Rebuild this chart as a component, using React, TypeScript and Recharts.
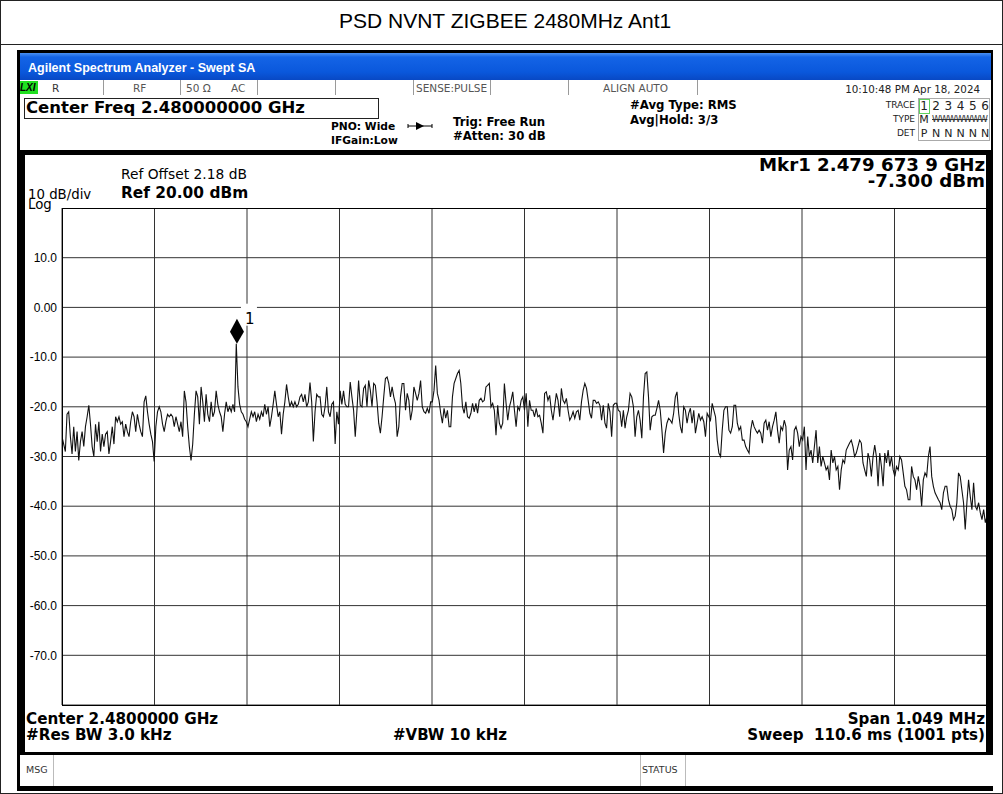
import React from 'react';
import { LineChart, Line, XAxis, YAxis, CartesianGrid, ReferenceDot } from 'recharts';

// sweep settings
const CENTER_MHZ = 2480;
const SPAN_MHZ = 1.049;
const MARKER_MHZ = 2479.6739;
const MARKER_DBM = -7.3;
const REF_DBM = 20;
const DB_PER_DIV = 10;
const DIVS = 10;

// trace levels (dBm), left third / middle third / right third of the sweep
const traceLeft = [
  -26, -27.5, -29, -21.5, -21, -26, -29.5, -24, -29, -25,
  -30.8, -27, -25, -28, -24, -22, -19.7, -23.5, -28, -30,
  -23.5, -27, -23, -29, -25.5, -28, -25.5, -25, -29.5, -27,
  -24, -27.5, -22, -23, -22, -23.5, -23, -26, -23.5, -25,
  -26, -23, -21, -22, -25, -21.5, -23.5, -25, -26, -19,
  -17.8, -21, -23.5, -25.5, -27, -31, -24, -21, -20, -21,
  -23.5, -25, -23, -21.5, -22, -21.5, -22, -24, -22, -23.5,
  -25, -23, -26, -16.8, -19, -24, -28, -30.8, -27.5, -21.5,
  -16.8, -18, -23.5, -16, -19, -23, -17.5, -21.5, -23, -19,
  -22, -21, -16.8, -19.5, -21, -22, -25, -21.5, -19, -21,
  -20, -21, -19.5, -21, -7.3, -16, -19.5, -21, -21.5, -22.5,
  -23, -24, -22.5, -21, -22, -21, -23, -21.5, -22.5, -21,
  -22, -19.5, -21.5, -20, -24, -22, -19.5, -16.8, -19.5, -22,
  -21, -25.5, -21.5, -19, -15.5, -18, -20, -19, -20, -19,
  -20, -19.5, -18, -17.5, -19, -17.5, -20, -19, -15.1, -19,
  -27, -21, -17.5, -18, -18, -21.5, -22, -20, -16, -21,
  -22, -19.5, -19, -27.5, -21, -23.5, -16.8, -19.5, -16.8, -19.5,
  -20, -20,
];

const traceMid = [
  -15, -18, -20.7, -26, -20.7, -14.7, -19.7, -20, -16.3, -15.7,
  -20, -14.7, -16.7, -20, -15.3, -15.7, -19, -23.3, -25.3, -22,
  -18, -14.3, -14, -15.3, -18, -16, -18, -19.3, -26, -24,
  -18, -15.3, -15.3, -20.7, -17.3, -18.7, -22.7, -20.7, -16, -17.3,
  -18.7, -17.3, -14.7, -20, -21, -21.3, -20.3, -21.3, -19, -19,
  -16.7, -11.7, -17.3, -18.7, -21.3, -23.3, -20.3, -22.3, -20.7, -24,
  -24, -18, -15.3, -14.3, -13.3, -12.7, -15.3, -20, -21.3, -19,
  -22, -22.3, -21.3, -19.3, -21, -19.3, -21.3, -18.7, -18.3, -19,
  -18.7, -16, -15.7, -15.3, -20, -19.3, -20.7, -25.7, -19.7, -23.3,
  -24.3, -23.3, -15.3, -19.3, -22.7, -20, -18.7, -17, -20.7, -24,
  -20, -20.7, -18.7, -18, -20.7, -17.3, -24, -18.7, -20.7, -20.7,
  -22, -20.3, -22, -21.7, -23.3, -25.3, -17.3, -17, -18.7, -17.7,
  -20.7, -22.7, -20, -17.3, -18.7, -22, -16.3, -18.7, -19.3, -18.3,
  -20.7, -22.7, -22, -21, -22.3, -21, -20.7, -22.7, -19, -16.7,
  -15.3, -16.3, -18.7, -21.3, -22.3, -18.7, -18.7, -19.3, -19, -19.7,
  -22.7, -19.7, -23.3, -24.3, -19.3, -21, -26, -19.7, -19.3, -19.3,
  -20.7, -21, -24, -20.7, -24.3, -22, -20.7, -17.3, -18, -20,
  -26, -22, -20.7, -22.7, -26.3, -18, -13.3, -13, -18, -24.7,
  -22, -21.7, -21.7, -20.3, -18.7, -20.7, -24.7, -29.3, -25.3, -23.3,
  -22.3, -22.7, -23.3,
];

const traceRight = [
  -21.3, -18, -17, -21.3, -24, -25.3, -20, -20.7, -23.3, -21.3,
  -20.3, -23.3, -20.7, -25.3, -23.3, -21.3, -22.7, -22, -23, -26,
  -21.3, -22, -22.7, -19.3, -20.7, -22, -26.7, -29.3, -30, -24.7,
  -20.7, -20, -20, -24.7, -25.3, -24, -19.7, -19.7, -23.3, -24.7,
  -24, -26.7, -26.7, -28, -28.7, -29.3, -24.7, -22.7, -24, -24.7,
  -25.3, -24.7, -25.3, -27.3, -23.3, -22.7, -24.7, -23, -26, -24,
  -22.7, -21, -24.7, -27.3, -24, -24.7, -22.7, -24, -32.7, -28.7,
  -28, -30.7, -24.7, -24, -25.3, -28, -26, -26.7, -24, -32.7,
  -26, -30, -28.7, -31.3, -28, -24.7, -31.3, -28, -32, -30,
  -31.3, -32.7, -32, -34.7, -28.7, -31.3, -30, -32.7, -32, -36.7,
  -32.7, -30.7, -31.3, -28.7, -28, -27.3, -26.7, -28, -30, -29.3,
  -28, -26.7, -27.3, -31.3, -32.7, -34, -29.3, -30.7, -34, -30,
  -27.7, -30, -36, -29.3, -32, -36, -29.3, -31.3, -28.7, -32,
  -30, -32.7, -34, -32, -32.7, -30, -30.7, -33.3, -36, -36.7,
  -38.7, -38.7, -32, -34, -34.7, -36.7, -34, -36, -40, -34.7,
  -33.3, -34, -30, -28, -34, -36, -37.3, -38, -38.7, -39.3,
  -40.7, -37.3, -36, -36, -38.7, -40, -40.7, -42.7, -42, -39.3,
  -33.3, -34, -36.7, -39.3, -44.7, -39.3, -34.7, -38, -40.7, -35.3,
  -40, -40.7, -39.3, -41.3, -42.7, -40.7, -43.3, -42,
];

const levels = [...traceLeft, ...traceMid, ...traceRight];
const START_MHZ = CENTER_MHZ - SPAN_MHZ / 2;
const STOP_MHZ = CENTER_MHZ + SPAN_MHZ / 2;
const STEP_MHZ = SPAN_MHZ / (levels.length - 1);
const traceData = levels.map((level, i) => ({ freq: START_MHZ + i * STEP_MHZ, level }));

const xTicks = Array.from({ length: DIVS + 1 }, (_, i) => START_MHZ + (i * SPAN_MHZ) / DIVS);
const yTicks = Array.from({ length: DIVS + 1 }, (_, i) => REF_DBM - i * DB_PER_DIV);
const BOTTOM_DBM = REF_DBM - DIVS * DB_PER_DIV;

const DV = '"DejaVu Sans", sans-serif';
const LS = '"Liberation Sans", Arial, sans-serif';

const fmtY = (v: number) => {
  if (v === REF_DBM || v === BOTTOM_DBM) return '';
  if (v === 0) return '0.00';
  return v.toFixed(1);
};

type TxtProps = {
  x: number;
  cy: number;
  size: number;
  bold?: boolean;
  right?: boolean;
  color?: string;
  family?: string;
  italic?: boolean;
  lh?: number;
  children: React.ReactNode;
};

// absolutely placed text, cy = middle of the capitals of the first line
const Txt = ({ x, cy, size, bold, right, color, family, italic, lh, children }: TxtProps) => {
  const line = lh ?? size;
  const style: React.CSSProperties = {
    position: 'absolute',
    top: cy - size * 0.485 - (line - size) / 2,
    fontSize: size,
    lineHeight: `${line}px`,
    fontFamily: family ?? DV,
    fontWeight: bold ? 'bold' : 'normal',
    fontStyle: italic ? 'italic' : 'normal',
    color: color ?? '#000',
    whiteSpace: 'pre',
    textAlign: right ? 'right' : 'left',
  };
  if (right) style.right = 1003 - x;
  else style.left = x;
  return <div style={style}>{children}</div>;
};

const Box = ({ l, t, w, h, bg, border }: { l: number; t: number; w: number; h: number; bg?: string; border?: string }) => (
  <div
    style={{
      position: 'absolute',
      left: l,
      top: t,
      width: w,
      height: h,
      background: bg ?? 'transparent',
      border,
      boxSizing: 'border-box',
    }}
  />
);

const MarkerShape = (props: any) => {
  const { cx, cy } = props;
  return (
    <g>
      <rect x={cx + 4} y={cy - 40} width={16} height={22} fill="#fff" />
      <polygon points={`${cx},${cy} ${cx + 7},${cy - 12} ${cx},${cy - 25} ${cx - 7},${cy - 12}`} fill="#000" />
      <text x={cx + 8} y={cy - 20} fontSize={15} fontFamily={DV} fill="#000">1</text>
    </g>
  );
};

// frequency ticks only feed the vertical graticule lines
const NoTick = () => <g />;

const statusDividers = [103, 180, 257, 335, 413, 490, 568, 697];
const traceNums = ['1', '2', '3', '4', '5', '6'];
const detCodes = ['P', 'N', 'N', 'N', 'N', 'N'];

export default function App() {
  return (
    <div style={{ position: 'absolute', left: 0, top: 0, width: 1003, height: 794, background: '#fff', overflow: 'hidden' }}>
      <Box l={0} t={0} w={1003} h={794} border="1px solid #222" />
      <Box l={0} t={44} w={1003} h={1} bg="#222" />
      <Txt x={339} cy={20.5} size={21} family={LS}>PSD NVNT ZIGBEE 2480MHz Ant1</Txt>

      {/* analyzer screen */}
      <Box l={17} t={50} w={976} h={741} bg="#000" />
      <div
        style={{
          position: 'absolute', left: 20, top: 53, width: 971, height: 27,
          background: 'linear-gradient(#4a90f2 0%, #1464e6 15%, #0a58dc 70%, #0848c4 100%)',
        }}
      />
      <Txt x={28} cy={68.5} size={12.5} bold color="#fff" family={LS}>Agilent Spectrum Analyzer - Swept SA</Txt>

      {/* status row */}
      <Box l={20} t={80} w={971} h={15} bg="#fff" />
      {statusDividers.map((x) => (
        <Box key={x} l={x} t={80} w={1} h={15} bg="#9a9a9a" />
      ))}
      <Box l={20} t={81} w={18} h={13} bg="#20e020" />
      <Txt x={20} cy={88} size={10} bold italic family={LS}>LXI</Txt>
      <Txt x={52} cy={88.5} size={10.5} color="#333">R</Txt>
      <Txt x={133} cy={88.5} size={10.5} color="#555">RF</Txt>
      <Txt x={186} cy={88.5} size={10.5} color="#555">50 Ω</Txt>
      <Txt x={231} cy={88.5} size={10.5} color="#555">AC</Txt>
      <Txt x={416} cy={88.5} size={10.5} color="#555">SENSE:PULSE</Txt>
      <Txt x={603} cy={88.5} size={10.5} color="#555">ALIGN AUTO</Txt>
      <Txt x={980} cy={88.5} size={10.3} right color="#222">10:10:48 PM Apr 18, 2024</Txt>

      {/* settings row */}
      <Box l={20} t={95} w={971} h={55} bg="#fff" />
      <Box l={24} t={98} w={355} h={21} border="1px solid #222" />
      <Txt x={26} cy={108.5} size={16.5} bold>Center Freq 2.480000000 GHz</Txt>
      <Txt x={331} cy={127} size={10.7} bold lh={13.5}>{'PNO: Wide\nIFGain:Low'}</Txt>
      <svg style={{ position: 'absolute', left: 406, top: 121 }} width={28} height={10}>
        <line x1={2} y1={5} x2={26} y2={5} stroke="#000" strokeWidth={1} />
        <line x1={2} y1={3} x2={2} y2={7} stroke="#000" strokeWidth={1} />
        <line x1={26} y1={3} x2={26} y2={7} stroke="#000" strokeWidth={1} />
        <polygon points="10,1 18,5 10,9" fill="#000" />
      </svg>
      <Txt x={453} cy={121.7} size={11.7} bold lh={14.6}>{'Trig: Free Run\n#Atten: 30 dB'}</Txt>
      <Txt x={630} cy={105.8} size={11.7} bold lh={15}>{'#Avg Type: RMS\nAvg|Hold: 3/3'}</Txt>

      <Txt x={915} cy={105} size={9} right color="#222" lh={14}>{'TRACE\nTYPE\nDET'}</Txt>
      <Box l={918} t={98} w={72} h={43} border="1px solid #aaa" />
      <Box l={919} t={99} w={11} h={15} border="1px solid #5fd35f" />
      {traceNums.map((n, i) => (
        <div key={'n' + i} style={{ position: 'absolute', left: 918 + i * 12.2, top: 100, width: 12, textAlign: 'center', fontFamily: DV, fontSize: 12, lineHeight: '12px', color: '#222' }}>{n}</div>
      ))}
      <div style={{ position: 'absolute', left: 918, top: 114, width: 12, textAlign: 'center', fontFamily: DV, fontSize: 11, lineHeight: '11px', color: '#222' }}>M</div>
      <div style={{ position: 'absolute', left: 932, top: 115, fontFamily: DV, fontSize: 8.5, lineHeight: '9px', letterSpacing: -0.5, color: '#333', textDecoration: 'line-through' }}>WWWWWWW</div>
      {detCodes.map((n, i) => (
        <div key={'d' + i} style={{ position: 'absolute', left: 918 + i * 12.2, top: 128, width: 12, textAlign: 'center', fontFamily: DV, fontSize: 11, lineHeight: '11px', color: '#222' }}>{n}</div>
      ))}

      {/* graticule area */}
      <Box l={25} t={155} w={961} h={597} bg="#fff" />
      <Txt x={121} cy={174.7} size={13.8}>Ref Offset 2.18 dB</Txt>
      <Txt x={121} cy={193} size={15.4} bold>Ref 20.00 dBm</Txt>
      <Txt x={28} cy={194.7} size={13.3} lh={10}>{'10 dB/div\nLog'}</Txt>
      <Txt x={985} cy={164.5} size={18.2} bold right lh={15.8}>{'Mkr1 2.479 673 9 GHz\n-7.300 dBm'}</Txt>

      <div style={{ position: 'absolute', left: 22, top: 208, width: 965, height: 498 }}>
        <LineChart width={965} height={498} data={traceData} margin={{ top: 0, right: 0, bottom: 0, left: 0 }}>
          <CartesianGrid stroke="#333" strokeWidth={1} />
          <XAxis
            dataKey="freq"
            type="number"
            domain={[START_MHZ, STOP_MHZ]}
            ticks={xTicks}
            interval={0}
            tick={NoTick}
            axisLine={false}
            tickLine={false}
            height={1}
            allowDataOverflow
          />
          <YAxis
            type="number"
            domain={[BOTTOM_DBM, REF_DBM]}
            ticks={yTicks}
            interval={0}
            width={40}
            axisLine={false}
            tickLine={false}
            tickSize={3}
            tickMargin={2}
            tick={{ fill: '#000', fontSize: 12, fontFamily: LS }}
            tickFormatter={fmtY}
          />
          <Line type="linear" dataKey="level" stroke="#111" strokeWidth={1.1} dot={false} isAnimationActive={false} />
          <ReferenceDot x={MARKER_MHZ} y={MARKER_DBM} shape={MarkerShape} />
        </LineChart>
      </div>
      <Box l={62} t={208} w={925} h={498} border="1px solid #000" />

      <Txt x={26} cy={718.8} size={15.2} bold lh={16.7}>{'Center 2.4800000 GHz\n#Res BW 3.0 kHz'}</Txt>
      <Txt x={393} cy={735.5} size={15} bold>#VBW 10 kHz</Txt>
      <Txt x={985} cy={718.8} size={15.1} bold right lh={16.7}>{'Span 1.049 MHz\nSweep  110.6 ms (1001 pts)'}</Txt>

      {/* message row */}
      <Box l={20} t={755} w={973} h={31} bg="#fff" />
      <Box l={53} t={755} w={1} h={31} bg="#bbb" />
      <Box l={640} t={755} w={1} h={31} bg="#bbb" />
      <Box l={685} t={755} w={1} h={31} bg="#bbb" />
      <Txt x={26} cy={770} size={9.5} color="#333">MSG</Txt>
      <Txt x={642} cy={770} size={9.5} color="#333">STATUS</Txt>
    </div>
  );
}
